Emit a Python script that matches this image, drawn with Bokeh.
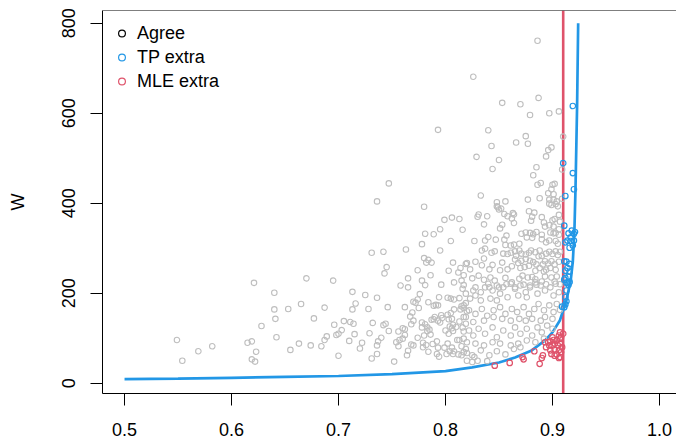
from bokeh.plotting import figure
from bokeh.models import (Range1d, FixedTicker, NumeralTickFormatter, Span,
                          Legend, LegendItem, ColumnDataSource)
from bokeh.embed import file_html
from bokeh.resources import INLINE

FONT = "Liberation Sans"
GRAY = "#BEBEBE"
BLUE = "#2297E6"
RED = "#DF536B"

X_TICKS = [0.5, 0.6, 0.7, 0.8, 0.9, 1.0]
Y_TICKS = [0, 200, 400, 600, 800]
VLINE_X = 0.91

CURVE_X = [0.500, 0.550, 0.600, 0.650, 0.700, 0.750, 0.800, 0.825, 0.850, 0.865,
           0.880, 0.893, 0.900, 0.907, 0.913, 0.917, 0.919, 0.9205, 0.9215, 0.923, 0.924]
CURVE_W = [9, 10, 12, 14, 16, 20, 27, 35, 46, 57,
           72, 95, 113, 140, 184, 228, 270, 340, 432, 617, 800]

AGREE_LEFT = [
    (0.549, 96), (0.554, 50), (0.569, 71), (0.582, 82), (0.621, 223), (0.640, 201), (0.640, 164),
    (0.641, 143), (0.628, 127), (0.615, 90), (0.619, 93), (0.623, 70), (0.619, 53), (0.622, 48),
    (0.642, 102), (0.653, 165), (0.665, 176), (0.670, 233), (0.695, 228), (0.687, 168), (0.677, 144),
    (0.696, 130), (0.689, 104), (0.687, 96), (0.698, 107), (0.700, 110), (0.663, 88), (0.655, 74),
    (0.674, 84), (0.684, 82), (0.700, 61)]

AGREE_UPPER = [
    (0.826, 681), (0.793, 563), (0.840, 562), (0.843, 527), (0.829, 503), (0.747, 444), (0.736, 404),
    (0.780, 392), (0.833, 417), (0.831, 375), (0.839, 371), (0.806, 368), (0.813, 365), (0.799, 363),
    (0.886, 761), (0.853, 623), (0.870, 620), (0.887, 634), (0.879, 596), (0.897, 600), (0.906, 604),
    (0.866, 535), (0.875, 549), (0.877, 532), (0.910, 548), (0.850, 496), (0.844, 476), (0.899, 524),
    (0.896, 518), (0.894, 504), (0.885, 480), (0.882, 462), (0.886, 441), (0.889, 445), (0.900, 441),
    (0.902, 443), (0.899, 431), (0.896, 422), (0.901, 420), (0.888, 411), (0.897, 408), (0.901, 408),
    (0.877, 408), (0.848, 402), (0.856, 404), (0.849, 391), (0.909, 475), (0.909, 410), (0.903, 398),
    (0.905, 393), (0.899, 396)]

AGREE_MID = [
    (0.795, 342), (0.789, 331), (0.781, 332), (0.805, 316), (0.778, 309), (0.731, 290), (0.742, 292),
    (0.763, 297), (0.795, 295), (0.780, 278), (0.784, 274), (0.782, 268), (0.787, 268), (0.807, 268),
    (0.745, 258), (0.743, 244), (0.774, 251), (0.803, 250), (0.812, 246), (0.814, 256), (0.819, 265),
    (0.786, 240), (0.765, 233), (0.765, 213), (0.758, 217), (0.778, 228), (0.781, 218), (0.796, 219),
    (0.808, 224), (0.815, 228), (0.817, 218), (0.713, 203), (0.716, 177), (0.713, 164), (0.725, 196),
    (0.736, 190), (0.728, 165), (0.746, 169), (0.762, 169), (0.776, 198), (0.774, 186), (0.772, 179),
    (0.770, 181), (0.775, 167), (0.784, 180), (0.789, 172), (0.791, 174), (0.793, 173), (0.794, 191),
    (0.802, 190), (0.805, 188), (0.808, 186), (0.813, 189), (0.819, 178), (0.815, 171), (0.703, 118),
    (0.705, 138), (0.711, 136), (0.714, 132), (0.715, 109), (0.710, 94), (0.722, 90), (0.720, 77),
    (0.732, 134), (0.729, 111), (0.742, 129), (0.744, 132), (0.747, 116), (0.740, 101), (0.737, 93),
    (0.736, 84), (0.731, 55), (0.736, 65), (0.752, 48), (0.756, 115), (0.760, 122), (0.762, 120),
    (0.762, 107), (0.754, 91), (0.757, 96), (0.760, 99), (0.756, 82), (0.764, 62), (0.765, 72),
    (0.767, 148), (0.769, 157), (0.770, 139), (0.768, 131), (0.768, 86), (0.770, 84), (0.774, 101),
    (0.778, 135), (0.778, 124), (0.781, 131), (0.783, 124), (0.783, 116), (0.785, 119), (0.786, 108),
    (0.780, 106), (0.779, 90), (0.779, 80), (0.782, 85), (0.784, 70), (0.788, 87), (0.792, 93),
    (0.793, 79), (0.792, 65), (0.794, 59), (0.787, 141), (0.789, 142), (0.790, 147), (0.793, 139),
    (0.795, 135), (0.797, 145), (0.796, 151), (0.800, 117), (0.804, 126), (0.806, 122), (0.807, 130),
    (0.802, 152), (0.805, 156), (0.808, 164), (0.803, 142), (0.806, 143), (0.803, 110), (0.807, 116),
    (0.799, 79), (0.802, 88), (0.806, 79), (0.808, 71), (0.801, 65), (0.804, 71), (0.812, 64),
    (0.815, 62), (0.811, 96), (0.813, 96), (0.817, 99), (0.817, 115), (0.819, 132), (0.817, 147),
    (0.814, 164), (0.817, 167), (0.820, 160), (0.813, 137), (0.810, 125), (0.819, 76), (0.820, 67),
    (0.815, 82), (0.807, 65), (0.827, 58), (0.825, 47)]

AGREE_DENSE_TOP = [
    (0.848, 393), (0.852, 388), (0.850, 386), (0.904, 404), (0.897, 399), (0.878, 382), (0.883, 379),
    (0.881, 370), (0.880, 361), (0.864, 375), (0.863, 378), (0.858, 371), (0.855, 376), (0.830, 370),
    (0.836, 353), (0.862, 366), (0.864, 356), (0.853, 352), (0.851, 344), (0.890, 369), (0.892, 357),
    (0.893, 348), (0.897, 351), (0.900, 362), (0.902, 365), (0.901, 348), (0.906, 374), (0.907, 359),
    (0.906, 342), (0.816, 341), (0.840, 325), (0.837, 317), (0.827, 316), (0.847, 319), (0.855, 319),
    (0.857, 328), (0.871, 332), (0.875, 335), (0.879, 334), (0.882, 331), (0.885, 336), (0.881, 323),
    (0.876, 324), (0.890, 330), (0.890, 320), (0.894, 313), (0.897, 317), (0.898, 335), (0.901, 333),
    (0.903, 334), (0.906, 330), (0.903, 316), (0.905, 310), (0.861, 306), (0.864, 308), (0.869, 310),
    (0.856, 307), (0.834, 295), (0.837, 299), (0.843, 290), (0.846, 293), (0.854, 288), (0.858, 287),
    (0.861, 290), (0.865, 293), (0.869, 295), (0.871, 288), (0.866, 283), (0.875, 286), (0.878, 290),
    (0.880, 295), (0.884, 291), (0.888, 295), (0.887, 282), (0.890, 283), (0.894, 288), (0.897, 292),
    (0.900, 287), (0.903, 293), (0.905, 285), (0.907, 292), (0.820, 267), (0.828, 270), (0.823, 253),
    (0.836, 277), (0.834, 262), (0.844, 263), (0.841, 253), (0.853, 268), (0.851, 251), (0.858, 253),
    (0.862, 260), (0.865, 275), (0.868, 267), (0.871, 272), (0.875, 276), (0.870, 256), (0.874, 258),
    (0.878, 261), (0.879, 272), (0.882, 269), (0.885, 264), (0.888, 256), (0.891, 264), (0.893, 271),
    (0.896, 266), (0.899, 271), (0.902, 264), (0.906, 270), (0.903, 252), (0.898, 256), (0.894, 252),
    (0.892, 248), (0.884, 250), (0.817, 240), (0.825, 233), (0.831, 239), (0.836, 230), (0.842, 235),
    (0.846, 228), (0.856, 234), (0.857, 220), (0.862, 224), (0.869, 232), (0.872, 239), (0.877, 235),
    (0.881, 236), (0.884, 231), (0.885, 219), (0.890, 226), (0.893, 237), (0.899, 235), (0.902, 226),
    (0.904, 237), (0.907, 220), (0.894, 220), (0.879, 217), (0.873, 219), (0.865, 213), (0.850, 213),
    (0.841, 213), (0.828, 213)]

AGREE_DENSE_LOW = [
    (0.816, 210), (0.819, 199), (0.826, 206), (0.828, 195), (0.833, 202), (0.837, 213), (0.840, 221),
    (0.844, 206), (0.848, 217), (0.851, 199), (0.854, 213), (0.861, 221), (0.865, 210), (0.870, 217),
    (0.875, 202), (0.879, 213), (0.884, 224), (0.889, 217), (0.893, 206), (0.898, 213), (0.903, 221),
    (0.906, 202), (0.901, 195), (0.886, 199), (0.876, 191), (0.868, 195), (0.858, 191), (0.848, 184),
    (0.842, 188), (0.833, 184), (0.823, 188), (0.817, 173), (0.822, 162), (0.828, 154), (0.834, 165),
    (0.839, 150), (0.845, 162), (0.851, 169), (0.856, 154), (0.862, 165), (0.867, 158), (0.873, 169),
    (0.878, 154), (0.883, 165), (0.887, 176), (0.892, 162), (0.897, 173), (0.901, 158), (0.904, 176),
    (0.907, 163), (0.900, 143), (0.893, 147), (0.889, 139), (0.881, 143), (0.875, 139), (0.869, 143),
    (0.861, 139), (0.853, 143), (0.845, 147), (0.836, 139), (0.826, 136), (0.819, 147), (0.816, 124),
    (0.822, 117), (0.826, 106), (0.831, 121), (0.837, 110), (0.844, 124), (0.848, 102), (0.854, 117),
    (0.861, 106), (0.865, 124), (0.870, 110), (0.876, 121), (0.881, 106), (0.886, 124), (0.890, 113),
    (0.895, 128), (0.900, 121), (0.892, 99), (0.884, 91), (0.876, 95), (0.868, 88), (0.861, 84),
    (0.851, 88), (0.844, 91), (0.836, 84), (0.828, 88), (0.820, 91), (0.817, 69), (0.825, 62),
    (0.833, 73), (0.841, 62), (0.848, 71), (0.856, 64), (0.864, 76), (0.870, 80), (0.820, 50),
    (0.830, 50), (0.839, 49)]

TP_EXTRA = [
    (0.919, 616), (0.910, 489), (0.919, 467), (0.920, 431), (0.912, 416), (0.911, 350), (0.915, 333),
    (0.918, 339), (0.920, 332), (0.917, 324), (0.914, 317), (0.917, 316), (0.920, 317), (0.912, 313),
    (0.919, 306), (0.916, 301), (0.921, 336), (0.911, 271), (0.913, 270), (0.916, 265), (0.914, 256),
    (0.912, 250), (0.916, 248), (0.912, 234), (0.915, 237), (0.911, 230), (0.914, 224), (0.913, 223),
    (0.915, 219), (0.916, 225), (0.913, 206), (0.912, 191), (0.913, 182), (0.912, 175), (0.909, 170),
    (0.911, 169)]

MLE_EXTRA = [
    (0.907, 113), (0.910, 110), (0.906, 106), (0.907, 99), (0.904, 95), (0.901, 96), (0.898, 93),
    (0.896, 91), (0.897, 84), (0.894, 80), (0.900, 84), (0.902, 88), (0.905, 84), (0.907, 88),
    (0.909, 80), (0.898, 73), (0.902, 75), (0.906, 73), (0.904, 64), (0.907, 58), (0.899, 65),
    (0.902, 61), (0.908, 69), (0.906, 56), (0.891, 62), (0.890, 56), (0.883, 71), (0.872, 58),
    (0.873, 53), (0.860, 45), (0.846, 39), (0.888, 43), (0.893, 91), (0.900, 102), (0.908, 102)]

AGREE = AGREE_LEFT + AGREE_UPPER + AGREE_MID + AGREE_DENSE_TOP + AGREE_DENSE_LOW

NAN = float("nan")


def src(pts):
    return ColumnDataSource(dict(x=[a for a, _ in pts], y=[b for _, b in pts]))


p = figure(width=676, height=438,
           x_range=Range1d(0.4794, 1.0159), y_range=Range1d(-22.9, 828.2),
           output_backend="svg", toolbar_location=None,
           min_border_left=102, min_border_right=0, min_border_top=10, min_border_bottom=45)
p.xgrid.visible = False
p.ygrid.visible = False
p.outline_line_color = None
p.background_fill_color = "white"
p.border_fill_color = "white"

for ax in (p.xaxis[0], p.yaxis[0]):
    ax.axis_line_color = "black"
    ax.axis_line_width = 1
    ax.major_tick_line_color = "black"
    ax.major_tick_line_width = 1
    ax.major_tick_in = 0
    ax.major_tick_out = 12
    ax.minor_tick_line_color = None
    ax.major_label_text_font = FONT
    ax.major_label_text_font_size = "18px"
    ax.major_label_text_color = "black"

p.xaxis.ticker = FixedTicker(ticks=X_TICKS)
p.xaxis.formatter = NumeralTickFormatter(format="0.0")
p.xaxis.major_label_standoff = 17
p.xaxis.major_label_text_line_height = 0.75

p.yaxis.ticker = FixedTicker(ticks=Y_TICKS)
p.yaxis.major_label_orientation = "vertical"
p.yaxis.major_label_standoff = 15
p.yaxis.axis_label = "W"
p.yaxis.axis_label_text_font = FONT
p.yaxis.axis_label_text_font_size = "18px"
p.yaxis.axis_label_text_font_style = "normal"
p.yaxis.axis_label_text_color = "black"
p.yaxis.axis_label_standoff = 32

# top border of the box
p.add_layout(Span(location=828.2, dimension="width", line_color="black", line_width=1))
# vertical threshold
p.add_layout(Span(location=VLINE_X, dimension="height", line_color=RED, line_width=2.6,
                  level="underlay"))

p.line(CURVE_X, CURVE_W, line_color=BLUE, line_width=2.7)

p.scatter("x", "y", source=src(AGREE), marker="circle", size=5.5,
          fill_color=None, line_color=GRAY, line_width=1.1)
p.scatter("x", "y", source=src(MLE_EXTRA), marker="circle", size=5.5,
          fill_color=None, line_color=RED, line_width=1.2)
p.scatter("x", "y", source=src(TP_EXTRA), marker="circle", size=5.5,
          fill_color=None, line_color=BLUE, line_width=1.2)

# legend-only glyphs (not drawn in the plot: NaN positions)
la = p.scatter(x=[NAN], y=[NAN], marker="circle", fill_color=None, line_color="black", line_width=1.2)
lb = p.scatter(x=[NAN], y=[NAN], marker="circle", fill_color=None, line_color=BLUE, line_width=1.2)
lc = p.scatter(x=[NAN], y=[NAN], marker="circle", fill_color=None, line_color=RED, line_width=1.2)

legend = Legend(items=[LegendItem(label="Agree", renderers=[la]),
                       LegendItem(label="TP extra", renderers=[lb]),
                       LegendItem(label="MLE extra", renderers=[lc])],
                location="top_left", border_line_color=None, background_fill_alpha=0,
                margin=11, padding=0, glyph_width=17, glyph_height=24, spacing=0,
                label_standoff=7, label_text_font=FONT, label_text_font_size="18px",
                label_text_color="black", label_height=20)
p.add_layout(legend)

open("out.html", "w").write(file_html(p, INLINE))
